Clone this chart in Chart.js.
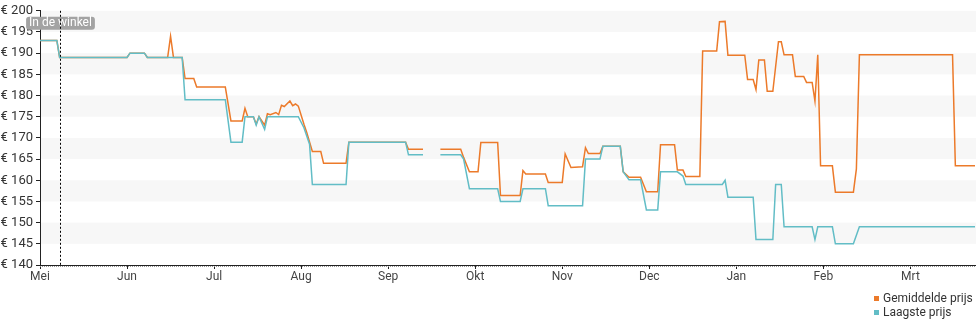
<!DOCTYPE html>
<html>
<head>
<meta charset="utf-8">
<script src="https://cdn.jsdelivr.net/npm/chart.js@4/dist/chart.umd.min.js"></script>
<style>
  html, body { margin: 0; padding: 0; background: #fff; }
  #wrap { position: relative; width: 980px; height: 325px; }
  #legend {
    position: absolute; left: 874px; top: 291px;
    font: 12px Roboto, sans-serif; color: #333; line-height: 14px;
  }
  .legend-item { display: flex; align-items: center; white-space: nowrap; }
  .legend-dot { width: 5px; height: 5px; margin-right: 4px; }
</style>
</head>
<body>
<div id="wrap">
  <canvas id="chart" width="980" height="325"></canvas>
  <div id="legend"></div>
</div>
<script>
// maanden op de x-as (seizoen mei 2023 – maart 2024)
const monthLabels = ['Mei', 'Jun', 'Jul', 'Aug', 'Sep', 'Okt', 'Nov', 'Dec', 'Jan', 'Feb', 'Mrt'];
const monthNumbers = [5, 6, 7, 8, 9, 10, 11, 12, 1, 2, 3];
const monthDays = [31, 30, 31, 31, 30, 31, 30, 31, 31, 29, 31];

const priceTicks = [140, 145, 150, 155, 160, 165, 170, 175, 180, 185, 190, 195, 200];

const storeDate = '05-08';   // "In de winkel"
const lastDate = '03-24';

// Gemiddelde prijs: [datum, prijs], null = geen data
const avgPrice = [
  ['05-01', 193], ['05-07', 193], ['05-08', 189], ['06-01', 189], ['06-02', 190],
  ['06-07', 190], ['06-08', 189], ['06-15', 189], ['06-16', 194], ['06-17', 189],
  ['06-20', 189], ['06-21', 184], ['06-24', 184], ['06-25', 182], ['07-05', 182],
  ['07-07', 174], ['07-11', 174], ['07-12', 177], ['07-13', 175], ['07-15', 175],
  ['07-16', 173.3], ['07-17', 175], ['07-19', 173], ['07-20', 175.7], ['07-21', 175.5],
  ['07-23', 176], ['07-24', 175.5], ['07-25', 177.7], ['07-26', 177.4], ['07-28', 178.7],
  ['07-29', 177.6], ['07-30', 178], ['07-31', 177.5], ['08-02', 173.2], ['08-03', 171.3],
  ['08-05', 166.8], ['08-08', 166.8], ['08-09', 164], ['08-17', 164], ['08-18', 169],
  ['09-07', 169], ['09-08', 167.3], ['09-13', 167.3], ['09-16', null], ['09-19', 167.3],
  ['09-26', 167.3], ['09-27', 165.4], ['09-29', 162], ['10-02', 162], ['10-03', 168.9],
  ['10-09', 168.9], ['10-10', 156.4], ['10-17', 156.4], ['10-18', 162.3], ['10-19', 161.5],
  ['10-26', 161.5], ['10-27', 159.5], ['11-01', 159.5], ['11-02', 166.2], ['11-04', 163],
  ['11-08', 163.2], ['11-09', 167.7], ['11-10', 166.3], ['11-14', 166.3], ['11-15', 168],
  ['11-21', 168], ['11-22', 162], ['11-24', 160.7], ['11-28', 160.7], ['11-30', 157.3],
  ['12-04', 157.3], ['12-05', 168.4], ['12-10', 168.4], ['12-11', 162.4], ['12-13', 162.4],
  ['12-14', 160.9], ['12-19', 160.9], ['12-20', 190.5], ['12-25', 190.5], ['12-26', 197.4],
  ['12-28', 197.5], ['12-29', 189.5], ['01-04', 189.5], ['01-05', 183.8], ['01-07', 183.8],
  ['01-08', 181.4], ['01-09', 188.4], ['01-11', 188.4], ['01-12', 181], ['01-14', 181],
  ['01-16', 192.7], ['01-17', 192.7], ['01-18', 189.6], ['01-21', 189.6], ['01-22', 184.5],
  ['01-25', 184.5], ['01-26', 183.1], ['01-28', 183.1], ['01-29', 178.7], ['01-30', 189.6],
  ['01-31', 163.4], ['02-04', 163.4], ['02-05', 157.2], ['02-11', 157.2], ['02-12', 162.7],
  ['02-13', 189.6], ['03-16', 189.6], ['03-17', 163.4], ['03-24', 163.4]
];

// Laagste prijs
const lowPrice = [
  ['05-01', 193], ['05-07', 193], ['05-08', 189], ['06-01', 189], ['06-02', 190],
  ['06-07', 190], ['06-08', 189], ['06-20', 189], ['06-21', 179], ['07-05', 179],
  ['07-07', 169], ['07-11', 169], ['07-12', 175], ['07-15', 175], ['07-16', 173],
  ['07-17', 175], ['07-19', 172], ['07-20', 175], ['07-31', 175], ['08-02', 172.4],
  ['08-04', 168.5], ['08-05', 159], ['08-17', 159], ['08-18', 169], ['09-07', 169],
  ['09-08', 166], ['09-13', 166], ['09-16', null], ['09-19', 166], ['09-26', 166],
  ['09-27', 165], ['09-29', 158], ['10-09', 158], ['10-10', 155], ['10-17', 155],
  ['10-18', 158], ['10-26', 158], ['10-27', 154], ['11-08', 154], ['11-09', 165],
  ['11-14', 165], ['11-15', 168], ['11-21', 168], ['11-22', 162], ['11-24', 160.1],
  ['11-28', 160.1], ['11-30', 153], ['12-04', 153], ['12-05', 162], ['12-11', 162],
  ['12-13', 161], ['12-14', 159], ['12-27', 159], ['12-28', 160], ['12-29', 156],
  ['01-07', 156], ['01-08', 146], ['01-14', 146], ['01-15', 159], ['01-17', 159],
  ['01-18', 149], ['01-28', 149], ['01-29', 146], ['01-30', 149], ['02-04', 149],
  ['02-05', 145], ['02-11', 145], ['02-13', 149], ['03-24', 149]
];

const seriesNames = ['Gemiddelde prijs', 'Laagste prijs'];
const seriesColors = ['#ec7a2a', '#62bdc6'];

// elke maand even breed: positie = maandindex + fractie van de maand
function monthPos(date) {
  const [m, d] = date.split('-').map(Number);
  const i = monthNumbers.indexOf(m);
  return i + (d - 1) / monthDays[i];
}

const toPoints = rows => rows.map(([d, v]) => ({ x: monthPos(d), y: v }));

// grijze banden + winkel-lijn
const decorPlugin = {
  id: 'decor',
  beforeDatasetsDraw(chart) {
    const { ctx, chartArea: a, scales: { y } } = chart;
    ctx.save();
    ctx.fillStyle = '#f7f7f7';
    for (let i = 1; i < priceTicks.length - 1; i += 2) {
      const top = y.getPixelForValue(priceTicks[i + 1]);
      const bot = y.getPixelForValue(priceTicks[i]);
      ctx.fillRect(a.left + 1, top, a.right - a.left, bot - top);
    }
    ctx.restore();
  },
  afterDraw(chart) {
    const { ctx, chartArea: a, scales: { x } } = chart;
    ctx.save();
    // dagstreepjes onder de x-as
    ctx.strokeStyle = '#999';
    ctx.lineWidth = 1;
    ctx.setLineDash([1, 1]);
    ctx.beginPath();
    ctx.moveTo(a.left, a.bottom + 1.5);
    ctx.lineTo(a.right, a.bottom + 1.5);
    ctx.stroke();

    const px = Math.round(x.getPixelForValue(monthPos(storeDate))) + 0.5;
    // label
    ctx.setLineDash([]);
    ctx.font = '12px Roboto, sans-serif';
    const label = 'In de winkel';
    const w = ctx.measureText(label).width + 6;
    ctx.fillStyle = '#a3a3a3';
    ctx.beginPath();
    ctx.roundRect(px - w / 2, a.top + 6, w, 13, 3);
    ctx.fill();
    ctx.fillStyle = '#fff';
    ctx.textAlign = 'center';
    ctx.textBaseline = 'middle';
    ctx.fillText(label, px, a.top + 12.5);
    // stippellijn
    ctx.strokeStyle = '#000';
    ctx.setLineDash([2, 2]);
    ctx.beginPath();
    ctx.moveTo(px, a.top);
    ctx.lineTo(px, a.bottom);
    ctx.stroke();
    ctx.restore();
  }
};

const ctx = document.getElementById('chart').getContext('2d');
new Chart(ctx, {
  type: 'line',
  data: {
    datasets: [avgPrice, lowPrice].map((rows, i) => ({
      label: seriesNames[i],
      data: toPoints(rows),
      borderColor: seriesColors[i],
      backgroundColor: seriesColors[i],
      borderWidth: 1.5,
      pointRadius: 0,
      tension: 0,
      spanGaps: false,
      order: i === 0 ? 1 : 0
    }))
  },
  options: {
    responsive: false,
    animation: false,
    layout: { padding: { top: 9, right: 5 } },
    plugins: { legend: { display: false }, tooltip: { enabled: false } },
    scales: {
      x: {
        type: 'linear',
        min: 0,
        max: monthPos(lastDate),
        afterBuildTicks: s => { s.ticks = monthLabels.map((_, i) => ({ value: i })); },
        afterFit: s => { s.height = 60; },
        grid: { drawOnChartArea: false, color: '#222', tickLength: 4 },
        border: { color: '#222', width: 1 },
        ticks: {
          autoSkip: false,
          maxRotation: 0,
          padding: 1,
          color: '#444',
          font: { family: 'Roboto', size: 12 },
          callback: v => monthLabels[v]
        }
      },
      y: {
        min: priceTicks[0],
        max: priceTicks[priceTicks.length - 1],
        afterBuildTicks: s => { s.ticks = priceTicks.map(v => ({ value: v })); },
        afterFit: s => { s.width = 40; },
        grid: { drawOnChartArea: false, color: '#222', tickLength: 4 },
        border: { color: '#222', width: 1 },
        ticks: {
          padding: 3,
          color: '#333',
          font: { family: 'Roboto', size: 13 },
          callback: v => '€ ' + v
        }
      }
    }
  },
  plugins: [decorPlugin]
});

document.getElementById('legend').innerHTML = seriesNames.map((n, i) => `
  <div class="legend-item">
    <div class="legend-dot" style="background:${seriesColors[i]}"></div>
    <span>${n}</span>
  </div>`).join('');
</script>
</body>
</html>
